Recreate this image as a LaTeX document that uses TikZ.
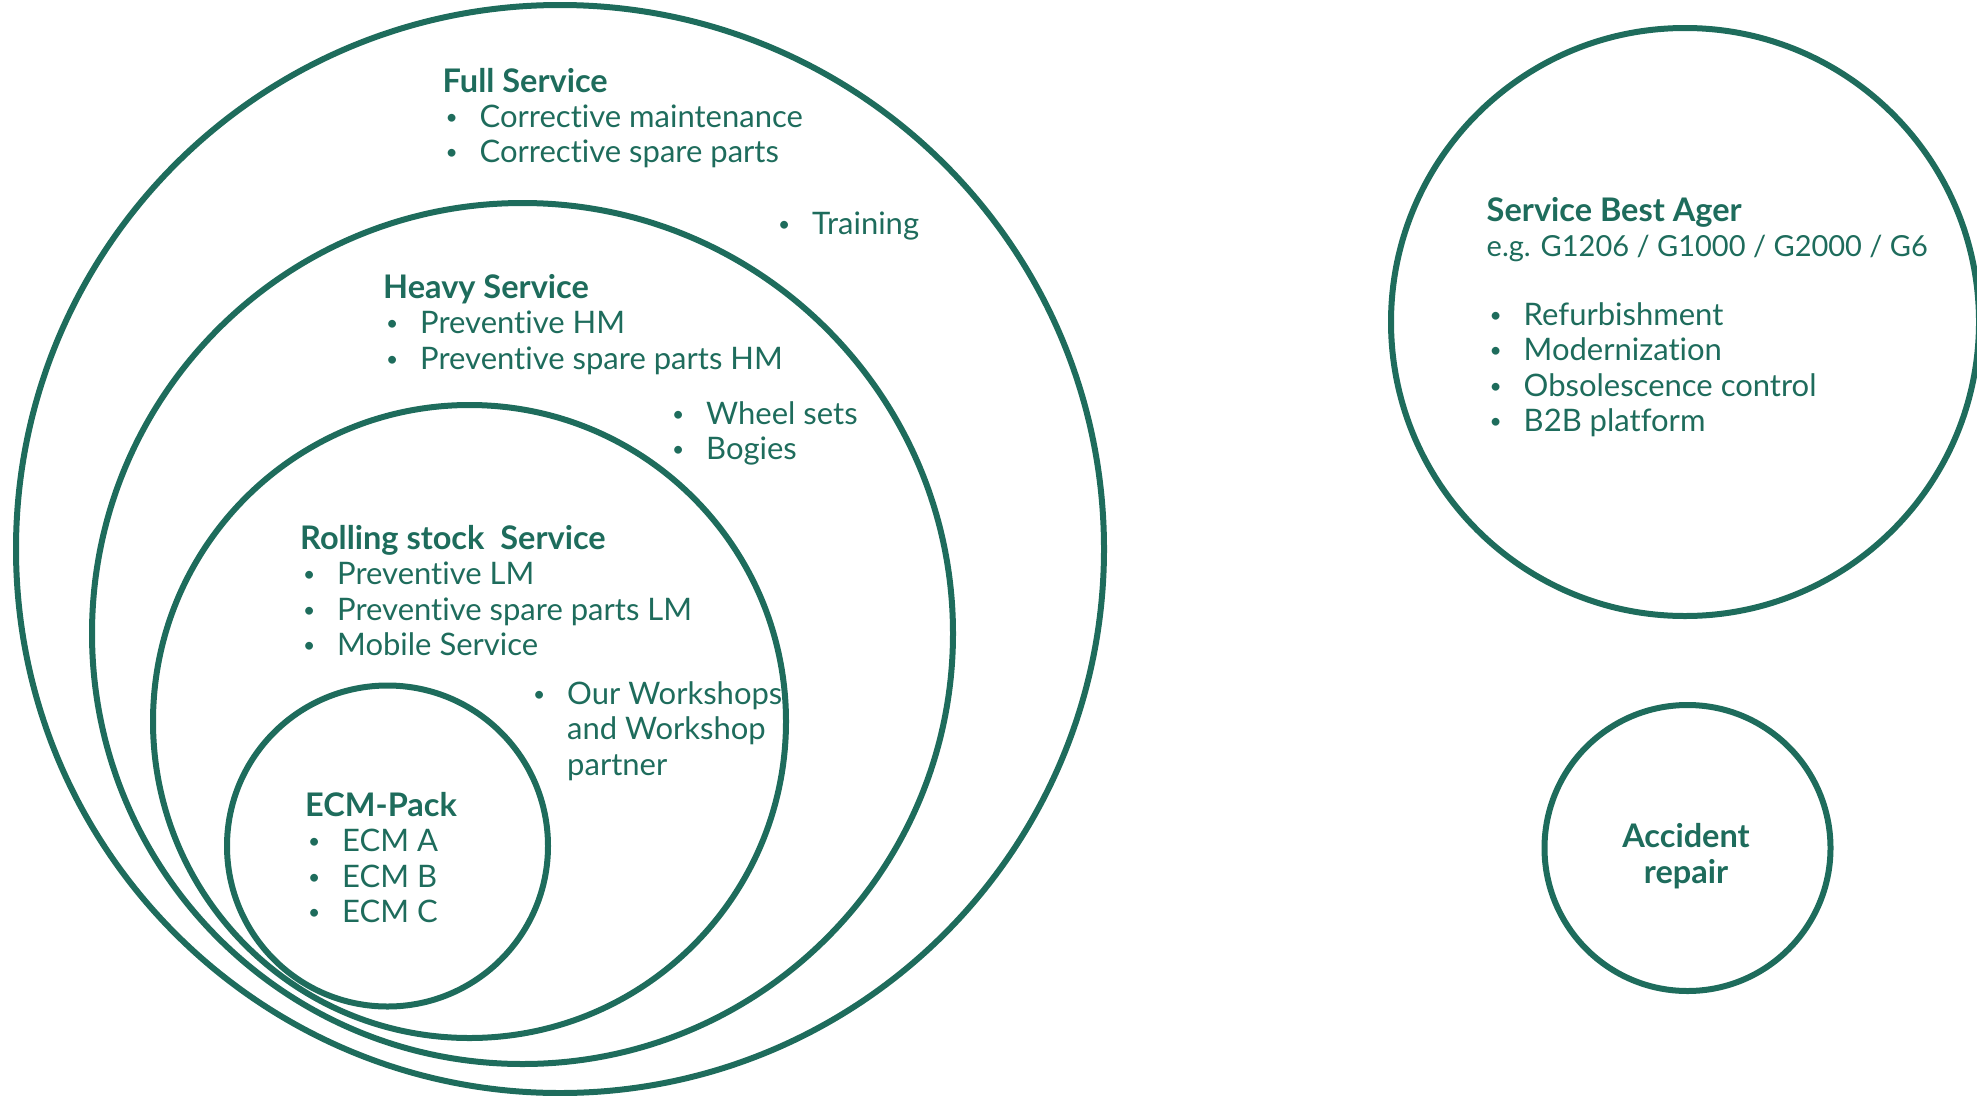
\documentclass[tikz,border=0pt]{standalone}
\usepackage{fontspec}
\setmainfont{Lato}[Ligatures={NoCommon,NoRare,NoContextual}]
\definecolor{dbgreen}{RGB}{30,108,92}
\newcommand\bitem{\makebox[37pt][l]{\hspace{3pt}\raisebox{3pt}{\fontsize{21}{21}\selectfont •}}}
\newcommand\bskip{\hspace*{37pt}}
\newcommand\ttl[1]{{\fontsize{32.5}{35.3}\selectfont\bfseries #1}}
\begin{document}
\begin{tikzpicture}[x=1pt,y=-1pt,
  ring/.style={circle, draw=dbgreen, line width=6pt, inner sep=0pt},
  txt/.style={text=dbgreen, align=left, anchor=base west, inner sep=0pt,
    font=\fontsize{31}{35.3}\selectfont}
]
\useasboundingbox (0,0) rectangle (1977,1095);
% circles
\node[ring, minimum size=1088pt] (full) at (560,549) {};
\node[ring, minimum size=861pt] (heavy) at (522.5,633.5) {};
\node[ring, minimum size=633pt] (rolling) at (469.5,721.5) {};
\node[ring, minimum size=321pt] (ecm) at (387.5,846) {};
\node[ring, minimum size=588pt] (ager) at (1685,322) {};
\node[ring, minimum size=286pt] (accident) at (1687.5,848) {};
% texts (anchor = baseline of last line)
\node[txt] (fulltxt) at (442.5,162.6) {\ttl{Full Service}\\\bitem Corrective maintenance\\\bitem Corrective spare parts};
\node[txt] (training) at (775,234) {\bitem Training};
\node[txt] (heavytxt) at (383,369) {\ttl{Heavy Service}\\\bitem Preventive HM\\\bitem Preventive spare parts HM};
\node[txt] (wheels) at (669,459.8) {\bitem Wheel sets\\\bitem Bogies};
\node[txt] (rolltxt) at (300,655.4) {\ttl{Rolling stock\ \ Service}\\\bitem Preventive LM\\\bitem Preventive spare parts LM\\\bitem Mobile Service};
\node[txt] (workshops) at (530,775) {\bitem Our Workshops\\\bskip and Workshop\\\bskip partner};
\node[txt] (ecmtxt) at (305,922.4) {\ttl{ECM-Pack}\\\bitem ECM A\\\bitem ECM B\\\bitem ECM C};
\node[txt] (agertxt) at (1486.5,431.5) {\ttl{Service Best Ager}\\{\fontsize{29}{35.3}\selectfont e.g. G1206 / G1000 / G2000 / G6}\\[34pt]\bitem Refurbishment\\\bitem Modernization\\\bitem Obsolescence control\\\bitem B2B platform};
\node[text=dbgreen, align=center, inner sep=0pt, font=\fontsize{32.5}{35.3}\selectfont\bfseries] (acctxt) at (1686,856) {Accident\\repair};
\end{tikzpicture}
\end{document}
